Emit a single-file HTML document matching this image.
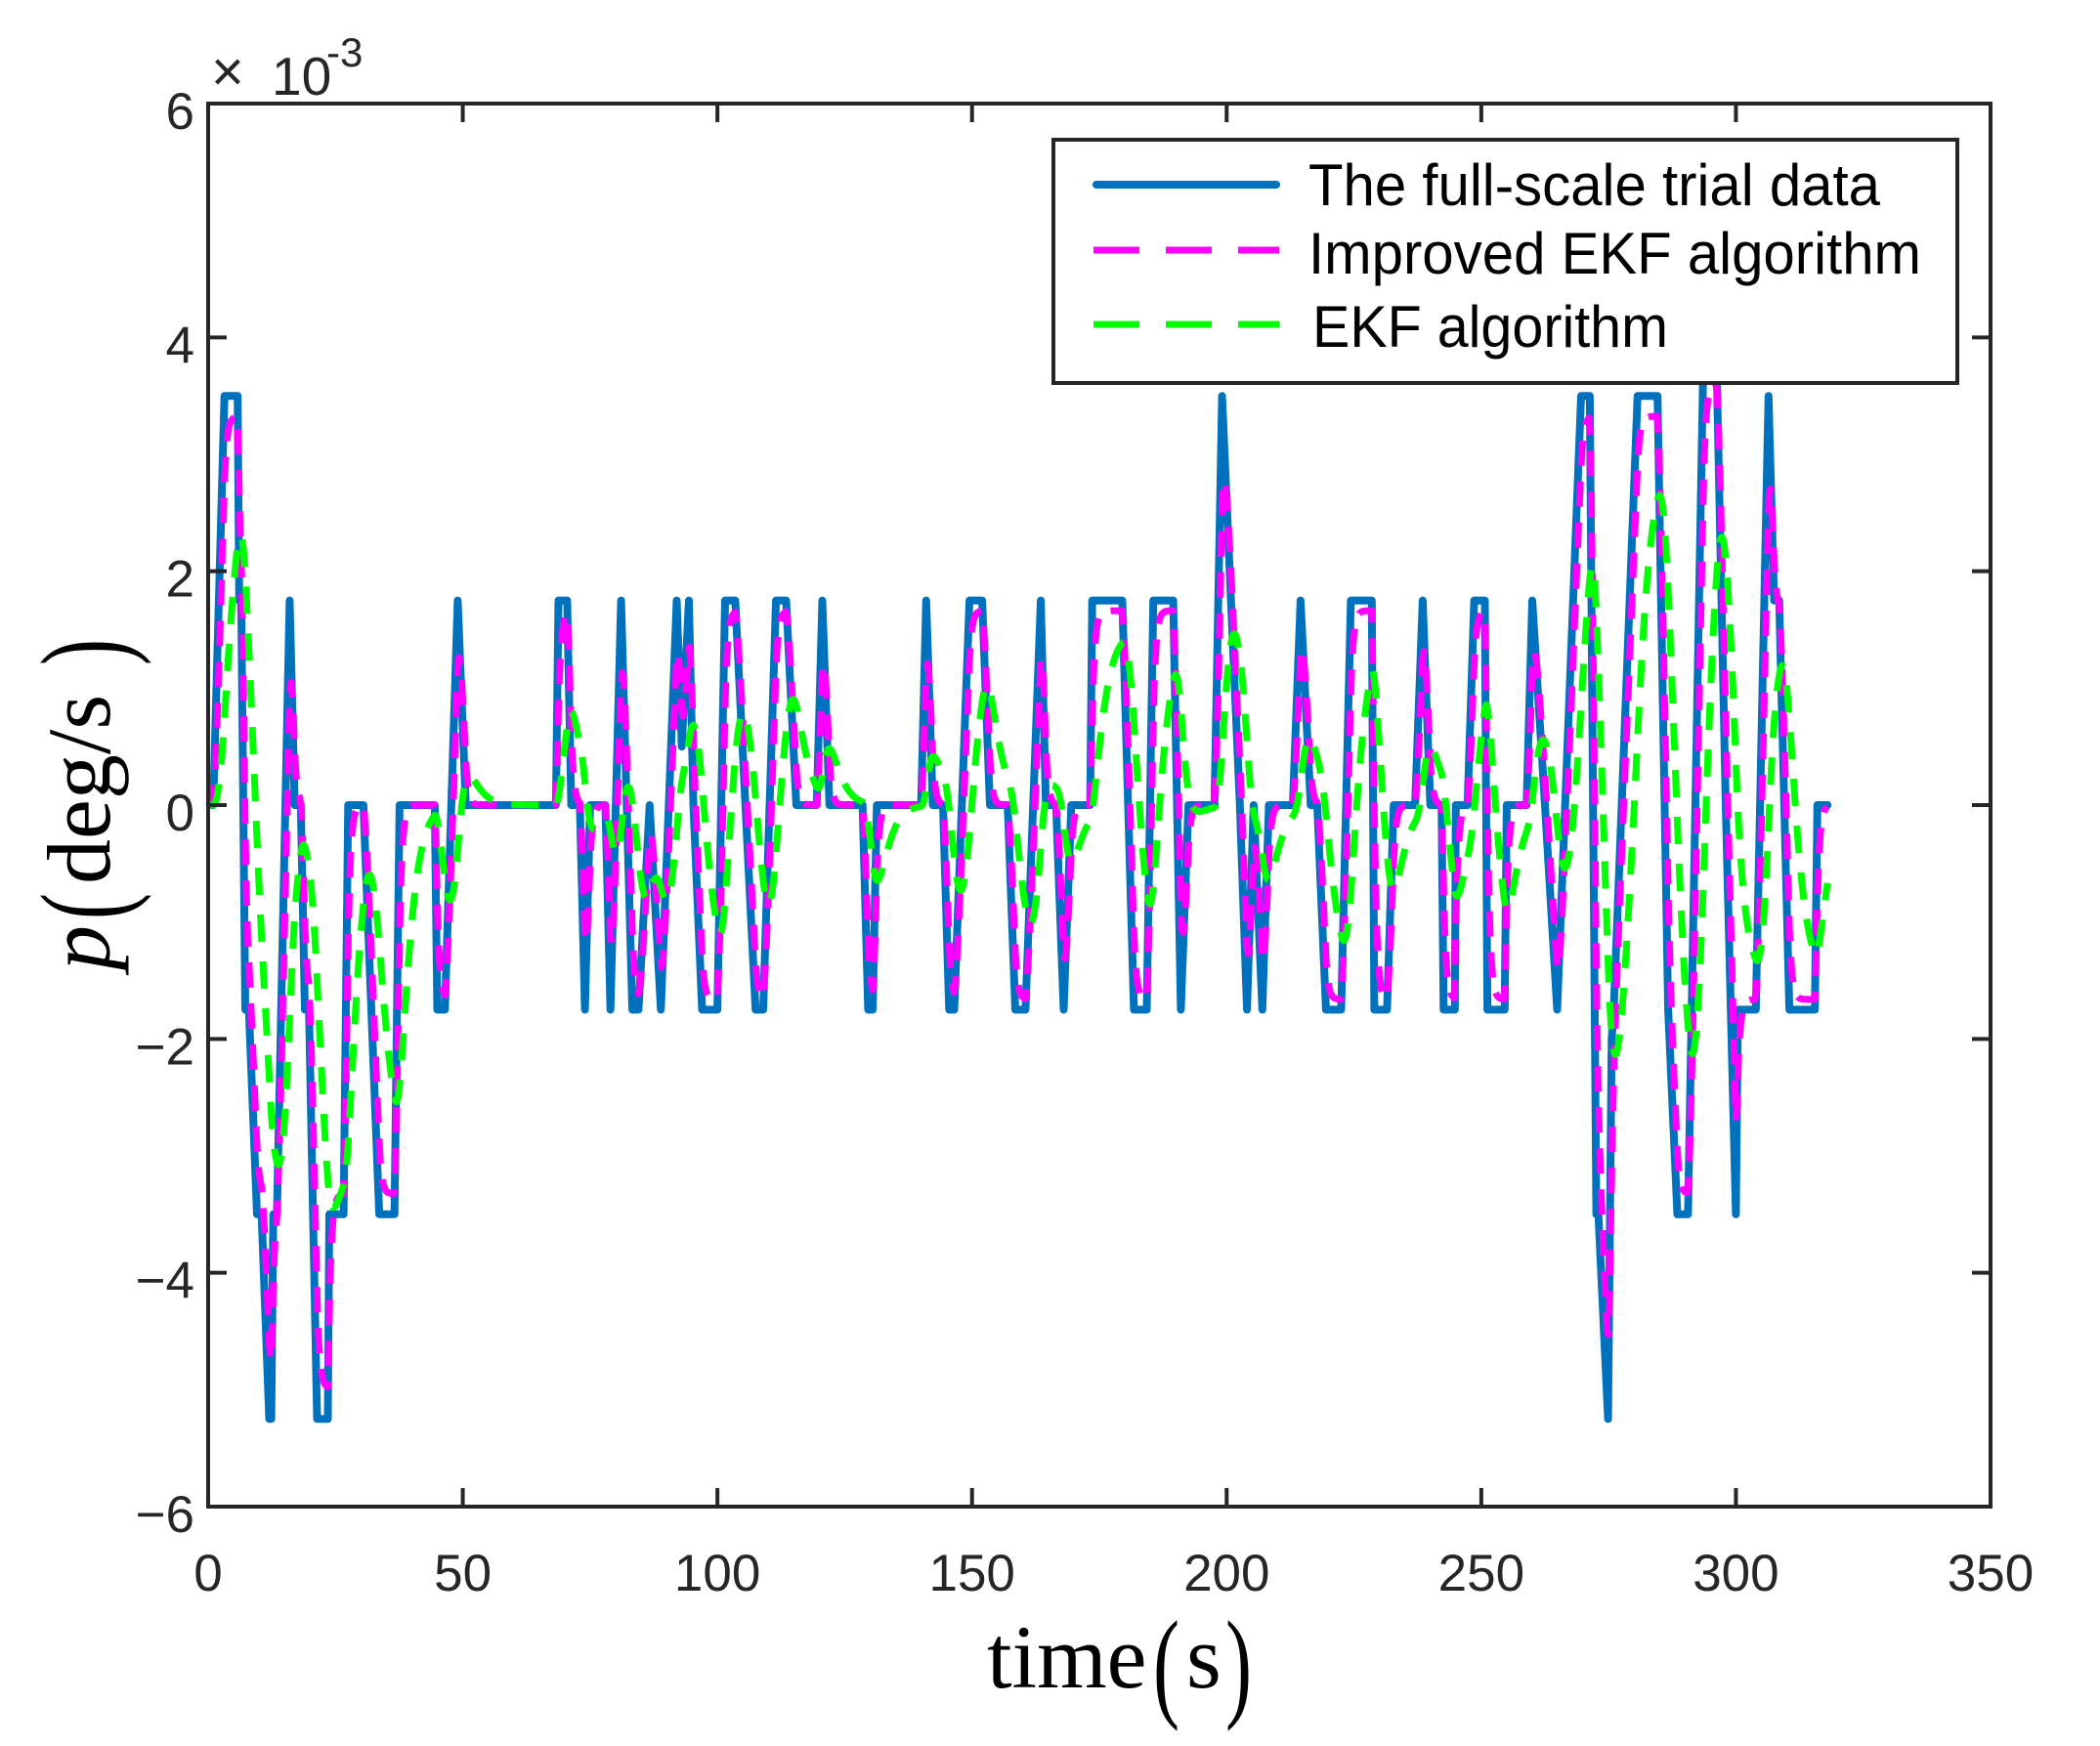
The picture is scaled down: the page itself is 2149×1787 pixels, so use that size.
<!DOCTYPE html>
<html><head><meta charset="utf-8"><style>
html,body{margin:0;padding:0;background:#fff;}
svg{display:block;}
</style></head><body>
<svg id="s" width="2149" height="1787" viewBox="0 0 2149 1787" xmlns="http://www.w3.org/2000/svg">
<defs><clipPath id="c"><rect x="213" y="106" width="1824" height="1436"/></clipPath></defs>
<rect width="2149" height="1787" fill="#fff"/>
<g id="series" clip-path="url(#c)"></g>
<g id="axes" stroke="#262626" stroke-width="4" fill="none"></g>
<g id="labels" font-family="Liberation Sans, Arial, sans-serif" font-size="53" fill="#262626"></g>
<text x="216" y="93" font-family="Liberation Sans, sans-serif" font-size="58" fill="#262626">×</text>
<text x="278" y="97" font-family="Liberation Sans, sans-serif" font-size="55" fill="#262626">10</text>
<text x="334" y="68" font-family="Liberation Sans, sans-serif" font-size="42" fill="#262626">-3</text>
<!-- legend -->
<rect x="1078" y="143" width="925" height="249" fill="#fff" stroke="#262626" stroke-width="4"/>
<line x1="1122" y1="189" x2="1306" y2="189" stroke="#0072BD" stroke-width="8" stroke-linecap="round"/>
<line x1="1119" y1="256" x2="1309" y2="256" stroke="#FF00FF" stroke-width="7" stroke-dasharray="47 27"/>
<line x1="1119" y1="332" x2="1309" y2="332" stroke="#00FF00" stroke-width="7" stroke-dasharray="47 27"/>
<g font-family="Liberation Sans, Arial, sans-serif" font-size="60" fill="#000">
<text x="1339" y="210" textLength="585" lengthAdjust="spacingAndGlyphs">The full-scale trial data</text>
<text x="1339" y="280" textLength="627" lengthAdjust="spacingAndGlyphs">Improved EKF algorithm</text>
<text x="1343" y="355" textLength="364" lengthAdjust="spacingAndGlyphs">EKF algorithm</text>
</g>
<!-- axis titles -->
<g font-family="Liberation Serif, Times New Roman, serif" fill="#000">
<text x="1010" y="1727" font-size="92">time</text>
<text x="1180" y="1745" font-size="125" transform="translate(1180 1745) scale(0.65 1) translate(-1180 -1745)">(</text>
<text x="1214" y="1727" font-size="92">s</text>
<text x="1254" y="1745" font-size="125" transform="translate(1254 1745) scale(0.65 1) translate(-1254 -1745)">)</text>
<g transform="translate(112 993) rotate(-90)">
<text x="0" y="0" font-size="92" font-style="italic">p</text>
<text x="52" y="16" font-size="125" transform="translate(52 16) scale(0.65 1) translate(-52 -16)">(</text>
<text x="88" y="0" font-size="92">deg/s</text>
<text x="312" y="16" font-size="125" transform="translate(312 16) scale(0.65 1) translate(-312 -16)">)</text>
</g>
</g>
</svg>
<script>
(function(){
var L=213,R=2037,T=106,B=1542;
function X(t){return L+t*(R-L)/350;}
function Y(v){return T+(6-v)*(B-T)/12;}
var NS="http://www.w3.org/2000/svg";
var blue=[[0,0],[1,0],[3.2,3.5],[5.8,3.5],[6.1,1.75],[6.5,1.75],[7.3,-1.75],[8,-1.75],[9.6,-3.5],[10.5,-3.5],[12,-5.25],[12.4,-5.25],[12.8,-3.5],[13.5,-3.5],[16,1.75],[17,0],[18.2,0],[19,-1.75],[19.8,-1.75],[21.4,-5.25],[23.5,-5.25],[23.8,-3.5],[26.6,-3.5],[27.5,0],[30.5,0],[33.6,-3.5],[36.6,-3.5],[37.6,0],[44.5,0],[45,-1.75],[46.5,-1.75],[49,1.75],[50.6,0],[68.3,0],[68.8,1.75],[70.5,1.75],[71.3,0],[73,0],[74,-1.75],[75,0],[78,0],[79,-1.75],[81.1,1.75],[83.3,-1.75],[84.5,-1.75],[86.7,0],[88.9,-1.75],[92,1.75],[93,0.5],[94.4,1.75],[95.3,0],[97,-1.75],[100,-1.75],[101.5,1.75],[103.5,1.75],[105.5,0],[107.5,-1.75],[109,-1.75],[111.5,1.75],[113.5,1.75],[115.5,0],[119.5,0],[120.6,1.75],[122,0],[128.5,0],[129.6,-1.75],[130.5,-1.75],[131.3,0],[140,0],[141,1.75],[142.3,0],[144.3,0],[145.5,-1.75],[146.5,-1.75],[148,0],[149.5,1.75],[152,1.75],[153.5,0],[157,0],[158.5,-1.75],[160.5,-1.75],[163.5,1.75],[164.5,0],[166.5,0],[168,-1.75],[169.5,0],[173.2,0],[173.6,1.75],[179.5,1.75],[181.8,-1.75],[184.3,-1.75],[185.6,1.75],[189.5,1.75],[191,-1.75],[192.5,0],[197.6,0],[199.1,3.5],[202.6,0],[204,-1.75],[205.3,0],[207,-1.75],[208.3,0],[213,0],[214.5,1.75],[216.5,0],[217.8,0],[219.5,-1.75],[222.5,-1.75],[224.4,1.75],[228.5,1.75],[229,-1.75],[231.5,-1.75],[232.8,0],[237,0],[238.5,1.75],[240,0],[242.2,0],[242.6,-1.75],[244.8,-1.75],[245,0],[247.3,0],[248.6,1.75],[250.7,1.75],[251.2,-1.75],[254.6,-1.75],[255,0],[258.9,0],[260,1.75],[262.5,0],[264.9,-1.75],[269.6,3.5],[271.3,3.5],[272.6,-3.5],[273,-3.5],[274.9,-5.25],[275.6,-2],[276,-1.75],[280.7,3.5],[284.6,3.5],[286.7,-1.75],[288.5,-3.5],[290.6,-3.5],[293.6,3.8],[296.2,3.8],[298,0],[300,-3.5],[300.4,-1.75],[303.9,-1.75],[306.4,3.5],[307.5,1.75],[308.5,1.75],[310.5,-1.75],[315.5,-1.75],[316,0],[318,0]];
function interp(t){for(var i=1;i<blue.length;i++){if(t<=blue[i][0]){var a=blue[i-1],b=blue[i];var f=(t-a[0])/((b[0]-a[0])||1);return a[1]+f*(b[1]-a[1]);}}return blue[blue.length-1][1];}
var dt=0.25,m=0,g1=0,g2=0,mp=[],gp=[];
for(var t=0;t<=318.001;t+=dt){var b=interp(t);m+=(b-m)*0.4;g1+=(b-g1)*0.16;g2+=(g1-g2)*0.16;mp.push([t,m*0.95]);gp.push([t,g2*0.85]);}
function path(pts){return pts.map(function(p,i){return (i?"L":"M")+X(p[0]).toFixed(1)+","+Y(p[1]).toFixed(1);}).join("");}
var S=document.getElementById("series");
function add(d,col,w,dash){var p=document.createElementNS(NS,"path");p.setAttribute("d",d);p.setAttribute("fill","none");p.setAttribute("stroke",col);p.setAttribute("stroke-width",w);p.setAttribute("stroke-linejoin","round");p.setAttribute("stroke-linecap",dash?"butt":"round");if(dash)p.setAttribute("stroke-dasharray",dash);S.appendChild(p);}
add(path(blue),"#0072BD",8,null);
add(path(mp),"#FF00FF",7,"26 16");
add(path(gp),"#00FF00",7,"28 20");
var A=document.getElementById("axes"),Lb=document.getElementById("labels");
function ln(x1,y1,x2,y2){var l=document.createElementNS(NS,"line");l.setAttribute("x1",x1);l.setAttribute("y1",y1);l.setAttribute("x2",x2);l.setAttribute("y2",y2);A.appendChild(l);}
function tx(x,y,s,anchor){var e=document.createElementNS(NS,"text");e.setAttribute("x",x);e.setAttribute("y",y);e.setAttribute("text-anchor",anchor);e.textContent=s;Lb.appendChild(e);}
var r=document.createElementNS(NS,"rect");r.setAttribute("x",L);r.setAttribute("y",T);r.setAttribute("width",R-L);r.setAttribute("height",B-T);A.appendChild(r);
for(var k=0;k<=7;k++){var x=X(k*50);ln(x,B,x,B-19);ln(x,T,x,T+19);tx(x,1628,String(k*50),"middle");}
for(var v=-6;v<=6;v+=2){var y=Y(v);ln(L,y,L+19,y);ln(R,y,R-19,y);tx(199,y+26,(v<0?"\u2212":"")+Math.abs(v),"end");}
})();
</script>
</body></html>
